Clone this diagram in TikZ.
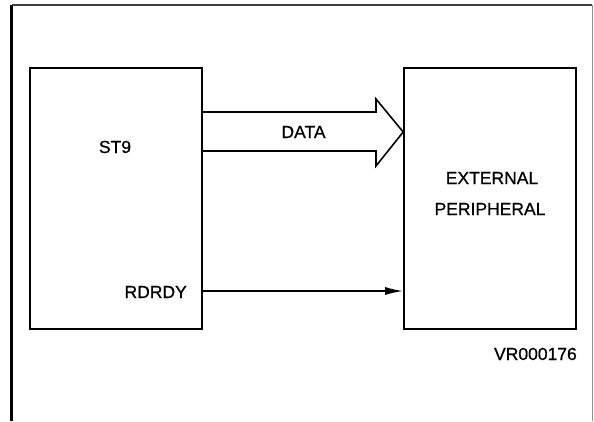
\documentclass[tikz,border=0pt]{standalone}
\usepackage{fontspec}
\setmainfont{Liberation Sans}
\newfontfamily\plotfont[FakeBold=0.7]{Liberation Sans}
\usetikzlibrary{arrows.meta}
\begin{document}
\begin{tikzpicture}[x=1pt,y=-1pt,
  blk/.style={draw,line width=1.6pt,inner sep=0pt,minimum width=172pt,minimum height=261pt},
  lbl/.style={inner sep=0pt,font=\plotfont\fontsize{17.5}{20}\selectfont},
  conn/.style={line width=1.6pt}]
\useasboundingbox (0,0) rectangle (594,421);
% frame
\draw[line width=3pt] (11.5,5) -- (11.5,421);
\draw[line width=1.2pt,black!75] (11.5,5) -- (592,5);
\draw[line width=0.8pt,black!45] (592,5) -- (592,421);
% boxes
\node[blk] (st9) at (116,198.5) {};
\node[blk] (ext) at (490,198.5) {};
% labels
\node[lbl,anchor=base] (t1) at (115,153) {ST9};
\node[lbl,anchor=base] (t2) at (303.5,138) {DATA};
\node[lbl,anchor=base] (t3) at (492,184) {EXTERNAL};
\node[lbl,anchor=base] (t4) at (490,215) {PERIPHERAL};
\node[lbl,anchor=base east] (t5) at (187,298) {RDRDY};
\node[lbl,anchor=base east] (t6) at (577,360) {VR000176};
% data bus arrow
\coordinate (dt) at (0,112);
\coordinate (db) at (0,151);
\coordinate (dm) at (0,132);
\coordinate (hb) at (376,0);
\draw[conn,line join=miter]
  (st9.east |- dt) -- (hb |- dt) -- (376,99) -- (ext.west |- dm)
  -- (376,166) -- (hb |- db) -- (st9.east |- db);
% RDRDY arrow
\coordinate (rd) at (0,291);
\draw[conn,-{Latex[length=18pt,width=8pt]}] (st9.east |- rd) -- (ext.west |- rd);
\end{tikzpicture}
\end{document}
